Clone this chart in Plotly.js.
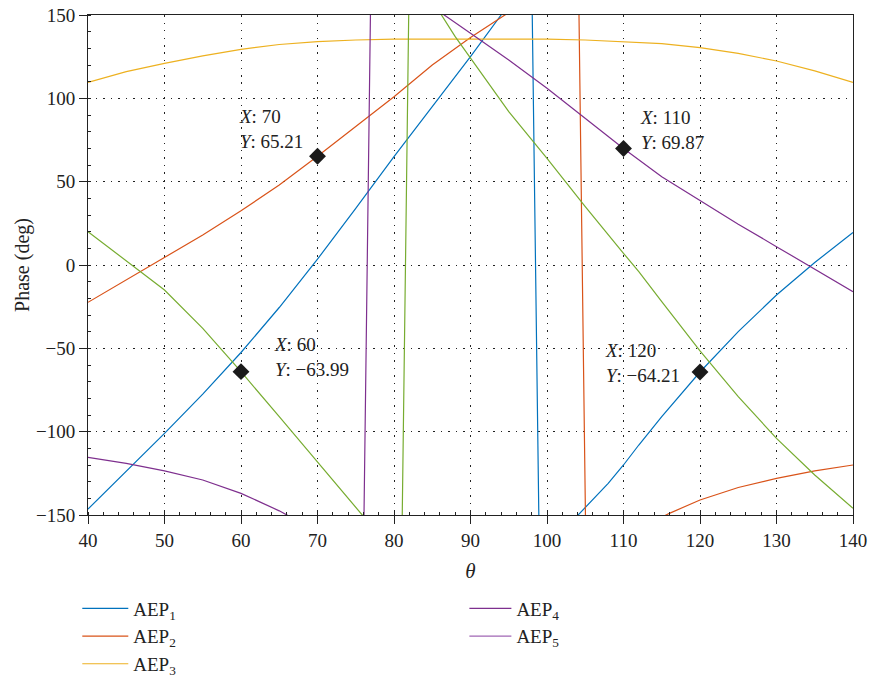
<!DOCTYPE html>
<html>
<head>
<meta charset="utf-8">
<script src="https://cdn.plot.ly/plotly-3.0.1.min.js"></script>
<style>html,body{margin:0;padding:0;background:#fff;}</style>
</head>
<body>
<div id="chart" style="width:872px;height:678px;"></div>
<script>
// ---- data (phases wrap at ±180°) ----
const aep1X = [40,45,50,55,60,65,70,75,80,85,90,94,96,98,99,100,102,104,106,108,110,112,115,120,125,130,135,140];
const aep1Y = [-146.5,-124,-101,-77.5,-52.5,-25.5,3.5,34,65,95,125,150,162.5,175,-174,-169,-160,-150.5,-141,-131,-120,-108,-91,-64.21,-40,-18,1.5,19.5];

const aep2X = [40,45,50,55,60,65,70,75,80,85,90,95,100,104.1,105.1,108,110,113,116,120,125,130,135,140];
const aep2Y = [-22.4,-9,4.6,18,32.5,48,65.21,83,101,120,136.5,151.5,166,179,-177,-169,-163.5,-156,-149,-141,-133.5,-128,-123.5,-120];

const aep3X = [40,45,50,55,60,65,70,75,80,85,90,95,100,105,110,115,120,125,130,135,140];
const aep3Y = [109.6,116,121,125.5,129.4,132.3,134,135,135.5,135.6,135.6,135.6,135.5,135,134,132.8,130.4,127,122.4,116.5,109.6];

const aep4X = [40,45,50,55,60,65,70,74,76,77,80,85,90,95,100,105,110,115,120,125,130,135,140];
const aep4Y = [-115.4,-119,-123.5,-129,-137,-147.5,-160,-172,-178,179,170,155,139,123,106,88,69.87,53,38.5,24.5,11,-2.5,-16];

const aep5X = [40,45,50,55,60,65,70,75,78,81,82,84,86,88,90,95,100,105,110,112,115,120,125,130,135,140];
const aep5Y = [20,2.5,-15,-38,-63.99,-91,-118,-145,-161.5,-178,178,165,151.5,137,124,92,64,35,7,-4,-22,-51.5,-79,-104,-126,-146];

const seriesNames = ['AEP<sub>1</sub>','AEP<sub>2</sub>','AEP<sub>3</sub>','AEP<sub>4</sub>','AEP<sub>5</sub>'];
const seriesColors = ['#0072BD','#D95319','#EDB120','#7E2F8E','#77AC30'];
const legend5Color = '#A066B4';

// data tips
const tipX = [60, 70, 110, 120];
const tipY = [-63.99, 65.21, 69.87, -64.21];
const tipShiftX = [70, -47, 48, -58];
const tipShiftY = [15, 27, 19, 9];

// ---- build ----
const font = 'Liberation Serif, Times New Roman, serif';
const ink = '#222222';
const lw = 1.2;

const traces = [
  {x: aep1X, y: aep1Y, name: seriesNames[0], legend: 'legend', line: {color: seriesColors[0], width: lw}},
  {x: aep2X, y: aep2Y, name: seriesNames[1], legend: 'legend', line: {color: seriesColors[1], width: lw}},
  {x: aep3X, y: aep3Y, name: seriesNames[2], legend: 'legend', line: {color: seriesColors[2], width: lw}},
  {x: aep4X, y: aep4Y, name: seriesNames[3], legend: 'legend2', line: {color: seriesColors[3], width: lw}},
  {x: aep5X, y: aep5Y, name: seriesNames[4], showlegend: false, line: {color: seriesColors[4], width: lw}},
  {x: [null], y: [null], name: seriesNames[4], legend: 'legend2', line: {color: legend5Color, width: lw}},
  {x: tipX, y: tipY, mode: 'markers', showlegend: false,
   marker: {symbol: 'diamond', size: 13, color: '#1a1a1a'}}
].map(t => Object.assign({type: 'scatter', mode: 'lines', hoverinfo: 'skip'}, t));

function fmt(v, dec) {
  const s = Math.abs(v).toFixed(dec);
  return (v < 0 ? '\u2212' : '') + s;
}
const annotations = tipX.map((xv, i) => ({
  x: xv, y: tipY[i], xref: 'x', yref: 'y', showarrow: false,
  text: '<i>X</i>: ' + xv + '<br><i>Y</i>: ' + fmt(tipY[i], 2),
  align: 'left', xanchor: 'center', yanchor: 'middle',
  xshift: tipShiftX[i], yshift: tipShiftY[i],
  font: {family: font, size: 19, color: ink}
}));

const axisCommon = {
  showline: true, linecolor: ink, linewidth: 1, mirror: true,
  ticks: 'outside', ticklen: 8, tickwidth: 1, tickcolor: ink,
  showgrid: true, gridcolor: ink, gridwidth: 1, griddash: '1.5px,6px',
  zeroline: false, tickfont: {family: font, size: 19, color: ink},
  automargin: false, fixedrange: true
};

const layout = {
  width: 872, height: 678,
  margin: {l: 88, r: 19, t: 15, b: 163, autoexpand: false},
  paper_bgcolor: '#ffffff', plot_bgcolor: '#ffffff',
  showlegend: true,
  xaxis: Object.assign({}, axisCommon, {
    range: [40, 140], tick0: 40, dtick: 10,
    minor: {ticks: 'inside', ticklen: 3, dtick: 2, tickcolor: ink, showgrid: false},
    title: {text: '<i>θ</i>', font: {family: font, size: 21, color: ink}, standoff: 13}
  }),
  yaxis: Object.assign({}, axisCommon, {
    range: [-150, 150], tick0: 0, dtick: 50,
    minor: {ticks: 'inside', ticklen: 3, dtick: 10, tickcolor: ink, showgrid: false},
    title: {text: 'Phase (deg)', font: {family: font, size: 20, color: ink}, standoff: 0}
  }),
  legend: {x: -0.014, y: -0.149, xanchor: 'left', yanchor: 'top', orientation: 'v',
           font: {family: font, size: 19, color: ink}, bgcolor: 'rgba(0,0,0,0)',
           tracegroupgap: 0, itemwidth: 46},
  legend2: {x: 0.492, y: -0.149, xanchor: 'left', yanchor: 'top', orientation: 'v',
            font: {family: font, size: 19, color: ink}, bgcolor: 'rgba(0,0,0,0)',
            tracegroupgap: 0, itemwidth: 42},
  annotations: annotations,
  hovermode: false
};

Plotly.newPlot('chart', traces, layout, {displayModeBar: false, staticPlot: true});
</script>
</body>
</html>
